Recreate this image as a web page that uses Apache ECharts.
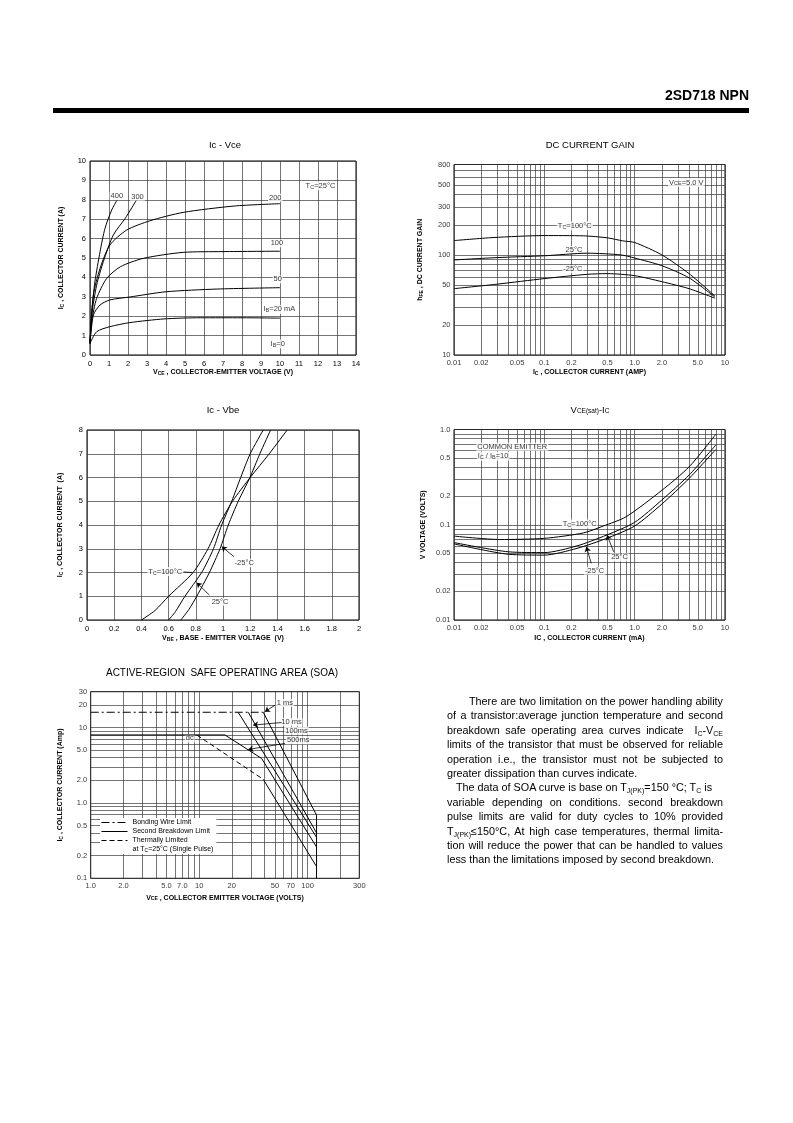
<!DOCTYPE html>
<html><head><meta charset="utf-8">
<script src="https://cdn.jsdelivr.net/npm/echarts@6/dist/echarts.min.js"></script>
<style>
html,body{margin:0;padding:0;background:#fff;}
#page{position:relative;width:793px;height:1123px;overflow:hidden;font-family:'Liberation Sans',Arial,sans-serif;color:#000;background:#fff;}
#chart{position:absolute;left:0;top:0;width:793px;height:1123px;}
#hdr{position:absolute;right:44px;top:87px;font-size:14px;font-weight:bold;line-height:16px;}
#bar{position:absolute;left:53px;top:108px;width:696px;height:5px;background:#000;}
#para{position:absolute;left:447px;top:694px;width:276px;font-size:10.8px;line-height:14.4px;}
#para .j{text-align:justify;text-align-last:justify;}
#para .l{text-align:left;}
#para sub{font-size:7px;vertical-align:-2px;line-height:0;}
</style></head>
<body><div id="page">
<div id="chart"></div>
<div id="hdr">2SD718 NPN</div>
<div id="bar"></div>
<div id="para">
<div class="j" style="padding-left:22px">There are two limitation on the power handling ability</div>
<div class="j">of a transistor:average junction temperature and second</div>
<div class="j">breakdown safe operating area curves indicate &nbsp;I<sub>C</sub>-V<sub>CE</sub></div>
<div class="j">limits of the transistor that must be observed for reliable</div>
<div class="j">operation i.e., the transistor must not be subjected to</div>
<div class="l">greater dissipation than curves indicate.</div>
<div class="l" style="padding-left:9px">The data of SOA curve is base on T<sub>J(PK)</sub>=150 °C; T<sub>C</sub> is</div>
<div class="j">variable depending on conditions. second breakdown</div>
<div class="j">pulse limits are valid for duty cycles to 10% provided</div>
<div class="j">T<sub>J(PK)</sub>≤150°C, At high case temperatures, thermal limita-</div>
<div class="j">tion will reduce the power that can be handled to values</div>
<div class="l">less than the limitations imposed by second breakdown.</div>
</div>
</div>
<script>
const FONT = "'Liberation Sans', Arial, Helvetica, sans-serif";

// ---------- Ic - Vce (Tc = 25°C), Ib curves ----------
const vceIb20  = [[0,0.6],[0.35,1.2],[1.05,1.46],[2.1,1.67],[3.9,1.86],[5.8,1.92],[8,1.92],[10,1.9]];
const vceIb50  = [[0,0.6],[0.18,2.06],[0.53,2.58],[1.05,2.84],[2.1,2.99],[4.0,3.26],[6.7,3.40],[10,3.47]];
const vceIb100 = [[0,0.6],[0.09,1.72],[0.35,2.92],[0.88,3.95],[1.6,4.55],[2.8,4.98],[4.9,5.29],[7,5.33],[10,5.35]];
const vceIb200 = [[0,0.6],[0.18,3.09],[0.53,4.47],[1.05,5.67],[1.93,6.44],[3.16,6.92],[4.9,7.35],[7.6,7.68],[10,7.8]];
const vceIb300 = [[0,0.6],[0.09,2.06],[0.35,3.6],[0.7,4.81],[1.23,6.19],[1.85,7.04],[2.43,7.96]];
const vceIb400 = [[0,0.6],[0.09,2.23],[0.26,3.78],[0.53,5.33],[0.79,6.53],[1.14,7.47],[1.41,7.96]];
const vceNotes = [[1.41,8.21,'400'],[2.5,8.16,'300'],[9.75,8.11,'200'],[9.84,5.76,'100'],[9.88,3.9,'50'],
                  [9.97,2.35,'I{s|B}=20 mA'],[9.88,0.57,'I{s|B}=0'],[12.13,8.73,'T{s|C}=25°C']];

// ---------- DC current gain (Vce = 5 V) ----------
const hfeT100 = [[0.01,139],[0.027,149],[0.1,156],[0.27,155],[0.5,148],[0.74,138],[1.0,133],[2.0,100],[4.0,65],[7.7,39]];
const hfeT25  = [[0.01,89],[0.03,94],[0.1,98],[0.3,104],[0.7,100],[1.0,93],[2.0,78],[4.0,59],[7.7,38]];
const hfeTm25 = [[0.01,46],[0.03,51],[0.1,58],[0.3,64],[0.5,65],[1.0,62],[2.0,54],[4.0,46],[7.7,37]];
const hfeXTicks = [0.01,0.02,0.05,0.1,0.2,0.5,1,2,5,10];
const hfeXTickText = ['0.01','0.02','0.05','0.1','0.2','0.5','1.0','2.0','5.0','10'];
const hfeYTicks = [10,20,50,100,200,300,500,800];
const hfeYTickText = ['10','20','50','100','200','300','500','800'];
const hfeNotes = [[0.217,196,'T{s|C}=100°C'],[0.213,112,'25°C'],[0.207,72,'-25°C'],[3.73,529,'V{s|CE}=5.0 V']];

// ---------- Ic - Vbe ----------
const vbeT100 = [[0.4,0],[0.5,0.4],[0.6,1],[0.78,2],[0.89,3],[0.97,4],[1.07,5],[1.2,6],[1.34,7],[1.472,8]];
const vbeT25  = [[0.6,0],[0.65,0.35],[0.72,1],[0.843,2],[0.93,3],[0.99,4],[1.064,5],[1.13,6],[1.2,7],[1.296,8]];
const vbeTm25 = [[0.69,0],[0.75,0.45],[0.807,1],[0.9,2],[0.978,3],[1.039,4],[1.112,5],[1.198,6],[1.271,7],[1.35,8]];
const vbeNotes = [[0.575,2.04,'T{s|C}=100°C'],[1.156,2.39,'-25°C'],[0.978,0.77,'25°C']];
const vbeArrows = [[0.71,2.02,0.775,2.0,false],[1.08,2.67,0.99,3.09,true],[0.9,1.05,0.807,1.57,true]];

// ---------- Vce(sat) - Ic (Ic/Ib = 10) ----------
const vsatT100 = [[0.01,0.076],[0.032,0.070],[0.1,0.072],[0.27,0.082],[0.45,0.097],[0.8,0.121],[2.0,0.23],[4.0,0.405],[7.9,0.89]];
const vsatT25  = [[0.01,0.065],[0.04,0.052],[0.1,0.051],[0.23,0.060],[0.49,0.078],[1.0,0.106],[2.0,0.182],[4.0,0.332],[7.9,0.686]];
const vsatTm25 = [[0.01,0.063],[0.04,0.049],[0.1,0.048],[0.23,0.0565],[0.49,0.072],[1.0,0.097],[2.0,0.165],[4.0,0.306],[7.9,0.617]];
const vsatYTicks = [0.01,0.02,0.05,0.1,0.2,0.5,1.0];
const vsatYTickText = ['0.01','0.02','0.05','0.1','0.2','0.5','1.0'];
const vsatNotes = [[0.0174,0.66,'COMMON EMITTER','left'],[0.0176,0.525,'I{s|C} / I{s|B}=10','left'],
                   [0.246,0.1016,'T{s|C}=100°C'],[0.68,0.0454,'25°C'],[0.36,0.0329,'-25°C']];
const vsatArrows = [[0.586,0.052,0.494,0.078,true],[0.331,0.0393,0.292,0.0587,true]];

// ---------- Safe operating area ----------
const soaBonding   = [[1,16],[39,16]];
const soa1ms       = [[39,16],[121,0.69],[121,0.1]];
const soa10ms      = [[28.4,16],[121,0.40]];
const soa100ms     = [[22.9,16],[121,0.35]];
const soa500ms     = [[1,8],[17.3,8],[37.7,3.9],[121,0.26]];
const soaDcThermal = [[9.5,8],[39,2.06]];
const soaDcSecond  = [[39,2.06],[121,0.143]];
const soaXTicks = [1,2,5,7,10,20,50,70,100,300];
const soaXTickText = ['1.0','2.0','5.0','7.0','10','20','50','70','100','300'];
const soaYTicks = [0.1,0.2,0.5,1,2,5,10,20,30];
const soaYTickText = ['0.1','0.2','0.5','1.0','2.0','5.0','10','20','30'];
const soaNotes = [[61.8,21.3,'1 ms'],[71,11.9,'10 ms'],[79,9.1,'100ms'],[82,6.8,'500ms'],[8.2,7.2,'dc']];
const soaArrows = [[50,19.9,40.4,16.2,true],[57.6,11.7,31.5,10.8,true],[61.8,6.17,28.4,5.14,true]];

// ---------- helpers ----------
const GRIDC = '#3a3a3a', GW = 0.7;
const LBL = {fontSize: 7.5, color: '#000', fontFamily: FONT};
const RICH = {s: {fontSize: 5.5, color: '#000', fontFamily: FONT, verticalAlign: 'bottom', padding: [3, 0, 0, 0]}};
const NAME = {fontSize: 7, fontWeight: 'bold', color: '#000', fontFamily: FONT,
  rich: {s: {fontSize: 5, fontWeight: 'bold', color: '#000', fontFamily: FONT, verticalAlign: 'bottom', padding: [2, 0, 0, 0]}}};
const NOFILL = 'rgba(0,0,0,0)';

function decadeGrid(lo, hi) {
  const out = [];
  for (let e = Math.floor(Math.log10(lo) + 1e-9); Math.pow(10, e) <= hi * 1.0001; e++) {
    for (let m = 1; m < 10; m++) {
      const v = +(m * Math.pow(10, e)).toPrecision(6);
      if (v >= lo * 0.9999 && v <= hi * 1.0001) out.push(v);
    }
  }
  return out;
}
function curve(idx, data, extra) {
  return Object.assign({type: 'line', xAxisIndex: idx, yAxisIndex: idx, data: data, symbol: 'none', showSymbol: false,
    smooth: 0.25, silent: true, z: 5, itemStyle: {color: NOFILL}, lineStyle: {color: '#000', width: 1}}, extra || {});
}
function gridLines(idx, xs, ys, anchor) {
  return {type: 'line', xAxisIndex: idx, yAxisIndex: idx, data: [anchor], symbol: 'none', silent: true, z: 1,
    lineStyle: {width: 0, opacity: 0},
    markLine: {silent: true, z: 1, animation: false, symbol: ['none', 'none'], label: {show: false},
      emphasis: {disabled: true}, lineStyle: {color: GRIDC, width: GW, type: 'solid'},
      data: xs.map(v => ({xAxis: v})).concat(ys.map(v => ({yAxis: v})))}};
}
function tickLabels(idx, ticks, texts, fixed, isY) {
  return {type: 'scatter', xAxisIndex: idx, yAxisIndex: idx, silent: true, clip: false, symbolSize: 1, z: 2,
    itemStyle: {color: NOFILL},
    data: ticks.map((v, i) => isY ? [fixed, v, texts[i]] : [v, fixed, texts[i]]),
    label: Object.assign({show: true, position: isY ? 'left' : 'bottom', distance: 3, formatter: p => p.data[2]}, LBL)};
}
function notes(idx, arr, arrows) {
  const s = {type: 'scatter', xAxisIndex: idx, yAxisIndex: idx, silent: true, clip: false, symbolSize: 1, z: 3,
    itemStyle: {color: NOFILL},
    data: arr.map(n => ({value: [n[0], n[1]], label: {formatter: n[2], position: n[3] === 'left' ? 'right' : 'inside', distance: 0}})),
    label: Object.assign({show: true, backgroundColor: '#fff', padding: [0, 1], rich: RICH}, LBL)};
  if (arrows && arrows.length) {
    s.markLine = {silent: true, z: 6, animation: false, symbol: ['none', 'arrow'], symbolSize: 5, label: {show: false},
      emphasis: {disabled: true}, lineStyle: {color: '#000', width: 0.8, type: 'solid'},
      data: arrows.map(a => [{coord: [a[0], a[1]], symbol: 'none'}, {coord: [a[2], a[3]], symbol: a[4] ? 'arrow' : 'none'}])};
  }
  return s;
}
function linAxis(idx, min, max, interval, name, gap, margin) {
  return {gridIndex: idx, type: 'value', min: min, max: max, interval: interval,
    axisLine: {show: false}, axisTick: {show: false},
    splitLine: {show: true, lineStyle: {color: GRIDC, width: GW}},
    axisLabel: Object.assign({margin: margin}, LBL),
    name: name, nameLocation: 'middle', nameGap: gap, nameTextStyle: NAME};
}
function logAxis(idx, min, max, name, gap) {
  return {gridIndex: idx, type: 'log', logBase: 10, min: min, max: max,
    axisLine: {show: false}, axisTick: {show: false}, axisLabel: {show: false},
    splitLine: {show: false}, minorTick: {show: false}, minorSplitLine: {show: false},
    name: name, nameLocation: 'middle', nameGap: gap, nameTextStyle: NAME};
}
function title(x, y, text, size) {
  return {type: 'text', x: x, y: y, silent: true,
    style: {text: text, fill: '#000', fontSize: size || 9.5, fontFamily: FONT, align: 'center', verticalAlign: 'middle',
      textAlign: 'center', textVerticalAlign: 'middle',
      rich: {s: {fontSize: 6.5, fontFamily: FONT, fill: '#000', verticalAlign: 'bottom', padding: [3, 0, 0, 0]}}}};
}
const G = {show: true, borderColor: '#000', borderWidth: 1, backgroundColor: 'transparent', containLabel: false, outerBoundsMode: 'none'};

const chart = echarts.init(document.getElementById('chart'), null, {renderer: 'canvas'});
chart.setOption({
  animation: false,
  textStyle: {fontFamily: FONT},
  grid: [
    Object.assign({left: 90, top: 161, width: 266, height: 194}, G),
    Object.assign({left: 454, top: 164.5, width: 271, height: 190.5}, G),
    Object.assign({left: 87, top: 430, width: 272, height: 190}, G),
    Object.assign({left: 454, top: 429.5, width: 271, height: 190.5}, G),
    Object.assign({left: 90.7, top: 691.7, width: 268.6, height: 186.6}, G)
  ],
  xAxis: [
    linAxis(0, 0, 14, 1, 'V{s|CE} , COLLECTOR-EMITTER VOLTAGE (V)', 14, 5),
    logAxis(1, 0.01, 10, 'I{s|C} , COLLECTOR CURRENT (AMP)', 14),
    linAxis(2, 0, 2, 0.2, 'V{s|BE} , BASE - EMITTER VOLTAGE  (V)', 15, 5),
    logAxis(3, 0.01, 10, 'IC , COLLECTOR CURRENT (mA)', 15),
    logAxis(4, 1, 300, 'V{s|CE} , COLLECTOR EMITTER VOLTAGE (VOLTS)', 16)
  ],
  yAxis: [
    linAxis(0, 0, 10, 1, 'I{s|C} , COLLECTOR CURRENT (A)', 25, 4),
    logAxis(1, 10, 800, 'h{s|FE} , DC CURRENT GAIN', 30),
    linAxis(2, 0, 8, 1, 'I{s|C} , COLLECTOR CURRENT  (A)', 23, 4),
    logAxis(3, 0.01, 1, 'V VOLTAGE (VOLTS)', 27),
    logAxis(4, 0.1, 30, 'I{s|C} , COLLECTOR CURRENT (Amp)', 27)
  ],
  legend: {
    selectedMode: false, orient: 'vertical', left: 100, top: 818, itemWidth: 26, itemHeight: 7, itemGap: 2,
    padding: [1, 3, 1, 1], backgroundColor: '#fff',
    itemStyle: {opacity: 0, color: NOFILL, borderWidth: 0},
    lineStyle: {color: '#000', width: 1},
    textStyle: {fontSize: 7, color: '#000', fontFamily: FONT,
      rich: {s: {fontSize: 5, color: '#000', fontFamily: FONT, verticalAlign: 'bottom', padding: [2, 0, 0, 0]}}},
    data: [{name: 'Bonding Wire Limit'}, {name: 'Second Breakdown Limit'}, {name: 'Thermally Limited'},
           {name: 'at T{s|C}=25°C (Single Pulse)', icon: 'none'}]
  },
  graphic: [
    title(225, 145, 'Ic - Vce'),
    title(590, 145, 'DC CURRENT GAIN'),
    title(223, 410, 'Ic - Vbe'),
    title(590, 410, 'V{s|CE(sat)}-I{s|C}'),
    title(222, 673, 'ACTIVE-REGION  SAFE OPERATING AREA (SOA)', 10)
  ],
  series: [
    // Ic - Vce
    curve(0, vceIb20), curve(0, vceIb50), curve(0, vceIb100), curve(0, vceIb200), curve(0, vceIb300), curve(0, vceIb400),
    notes(0, vceNotes),
    // DC gain
    gridLines(1, decadeGrid(0.01, 10), decadeGrid(10, 800), [0.01, 10]),
    curve(1, hfeT100), curve(1, hfeT25), curve(1, hfeTm25),
    tickLabels(1, hfeXTicks, hfeXTickText, 10, false),
    tickLabels(1, hfeYTicks, hfeYTickText, 0.01, true),
    notes(1, hfeNotes),
    // Ic - Vbe
    curve(2, vbeT100), curve(2, vbeT25), curve(2, vbeTm25),
    notes(2, vbeNotes, vbeArrows),
    // Vce(sat)
    gridLines(3, decadeGrid(0.01, 10), decadeGrid(0.01, 1), [0.01, 0.01]),
    curve(3, vsatT100), curve(3, vsatT25), curve(3, vsatTm25),
    tickLabels(3, hfeXTicks, hfeXTickText, 0.01, false),
    tickLabels(3, vsatYTicks, vsatYTickText, 0.01, true),
    notes(3, vsatNotes, vsatArrows),
    // SOA
    gridLines(4, decadeGrid(1, 300), decadeGrid(0.1, 30), [1, 0.1]),
    curve(4, soaBonding, {name: 'Bonding Wire Limit', smooth: false, lineStyle: {color: '#000', width: 1, type: [8, 3, 2, 3]}}),
    curve(4, soa1ms, {name: 'Second Breakdown Limit', smooth: false}),
    curve(4, soa10ms, {name: 'Second Breakdown Limit', smooth: false}),
    curve(4, soa100ms, {name: 'Second Breakdown Limit', smooth: false}),
    curve(4, soa500ms, {name: 'Second Breakdown Limit', smooth: false}),
    curve(4, soaDcSecond, {name: 'Second Breakdown Limit', smooth: false}),
    curve(4, soaDcThermal, {name: 'Thermally Limited', smooth: false, lineStyle: {color: '#000', width: 1, type: [5, 3]}}),
    {type: 'line', name: 'at T{s|C}=25°C (Single Pulse)', xAxisIndex: 4, yAxisIndex: 4, data: [], symbol: 'none', silent: true,
     itemStyle: {color: NOFILL}, lineStyle: {color: NOFILL}},
    tickLabels(4, soaXTicks, soaXTickText, 0.1, false),
    tickLabels(4, soaYTicks, soaYTickText, 1, true),
    notes(4, soaNotes, soaArrows)
  ]
});
</script>
</body></html>
